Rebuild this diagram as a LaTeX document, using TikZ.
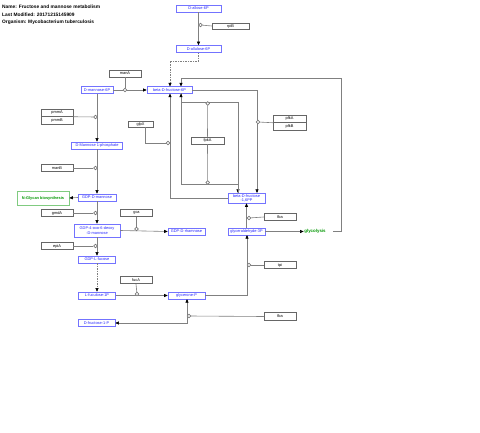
\documentclass[tikz,border=0pt]{standalone}
\usepackage{fontspec}
\setmainfont{Liberation Sans}
\usetikzlibrary{arrows.meta}
\definecolor{pwgreen}{RGB}{0,150,0}
\tikzset{
  lbl/.style={font=\fontsize{3.9}{4.3}\selectfont},
  met/.style={lbl, draw=blue!55, fill=white, text=blue!85, inner sep=0pt, align=center, line width=0.5pt},
  gene/.style={lbl, draw=black!60, fill=white, text=black, inner sep=0pt, minimum width=32pt, minimum height=7.5pt, line width=0.5pt},
  anc/.style={circle, draw=black!55, fill=white, minimum size=3.6pt, inner sep=0pt, line width=0.5pt},
  conn/.style={draw=black!50, line width=0.6pt},
  rxn/.style={conn, -{Triangle[length=3.6pt,width=3pt,color=black]}},
  rxnb/.style={conn, {Triangle[length=3.6pt,width=3pt,color=black]}-{Triangle[length=3.6pt,width=3pt,color=black]}},
  dashrxn/.style={rxn, dash pattern=on 1.5pt off 1pt},
}
\begin{document}
\begin{tikzpicture}[x=1pt,y=-1pt]
\path[use as bounding box, fill=white] (0,0) rectangle (480,433);
% title
\node[anchor=west, font=\fontsize{4.85}{5.2}\selectfont\bfseries, inner sep=0] (t1) at (2,7) {Name: Fructose and mannose metabolism};
\node[anchor=west, font=\fontsize{4.85}{5.2}\selectfont\bfseries, inner sep=0] (t2) at (2,15) {Last Modified: 20171215145909};
\node[anchor=west, font=\fontsize{4.85}{5.2}\selectfont\bfseries, inner sep=0] (t3) at (2,22.5) {Organism: Mycobacterium tuberculosis};

% metabolites
\node[met, minimum width=45pt, minimum height=7pt] (allose) at (198.5,8.5) {D-allose-6P};
\node[met, minimum width=45pt, minimum height=7pt] (allulose) at (198.5,49) {D-allulose-6P};
\node[met, minimum width=32pt, minimum height=7pt] (man6p) at (97,90) {D-mannose-6P};
\node[met, minimum width=45pt, minimum height=7pt] (fru6p) at (169.5,90) {beta-D-fructose-6P};
\node[met, minimum width=37pt, minimum height=10pt] (fbp) at (246.5,198) {beta-D-fructose\\-1,6PP};
\node[met, minimum width=37pt, minimum height=7pt] (gap) at (246.5,231.5) {glyceraldehyde-3P};
\node[met, minimum width=37pt, minimum height=7pt] (dhap) at (186.5,295.5) {glycerone-P};
\node[met, minimum width=37pt, minimum height=7.5pt] (fru1p) at (96.5,323) {D-fructose-1-P};
\node[met, minimum width=51pt, minimum height=7pt] (man1p) at (97,145.5) {D-Mannose 1-phosphate};
\node[met, minimum width=38pt, minimum height=7pt] (gdpman) at (97,197.5) {GDP-D-mannose};
\node[met, minimum width=46pt, minimum height=13pt] (gdpoxo) at (97,230.5) {GDP-4-oxo-6-deoxy\\-D-mannose};
\node[met, minimum width=37pt, minimum height=7pt] (rham) at (186.5,231.5) {GDP-D-rhamnose};
\node[met, minimum width=37pt, minimum height=7pt] (gdpfuc) at (97,259.5) {GDP-L-fucose};
\node[met, minimum width=37pt, minimum height=7pt] (fuc1p) at (97,295.5) {L-fuculose-1P};
% pathway links
\node[lbl, draw=pwgreen!50, text=pwgreen, font=\fontsize{3.9}{4.3}\selectfont\bfseries, minimum width=52pt, minimum height=14pt, inner sep=0, line width=0.5pt] (nglycan) at (43,198) {N-Glycan biosynthesis};
\node[lbl, text=pwgreen, font=\fontsize{4.4}{5}\selectfont\bfseries, inner sep=0.5pt] (glycolysis) at (315,231.5) {glycolysis};

% anchors
\node[anc] (a1) at (200.5,25) {};
\node[anc] (a2) at (125,90) {};
\node[anc] (a3) at (258,122) {};
\node[anc] (a4t) at (207.7,103.5) {};
\node[anc] (a4b) at (207.7,182.5) {};
\node[anc] (a5) at (168,143) {};
\node[anc] (a6) at (249,218) {};
\node[anc] (a7) at (249,265) {};
\node[anc] (a8) at (189,316) {};
\node[anc] (a9) at (95.5,117) {};
\node[anc] (a10) at (95.5,168) {};
\node[anc] (a11) at (95.5,213) {};
\node[anc] (a12) at (136.5,229) {};
\node[anc] (a13) at (95.5,246) {};
\node[anc] (a14) at (137,294) {};

% reactions
\draw[rxn] (allose.south) -- (allulose.north);
\draw[dashrxn] (allulose.south) -- (198.5,61) -- (170,61) -- (170,86.5);
\draw[rxn] (man6p.east) -- (fru6p.west);
\draw[rxn] (fru6p.east) -- (257,90) -- (257,193);
\coordinate (gly1) at (333,231.5);
\draw[rxn] (gly1) -- (341,231.5) -- (341,78) -- (181,78) -- (181,86.5);
\draw[rxn] (181,93.5) -- (181,102) -- (238,102) -- (238,193);
\draw[rxn] (238,193) -- (238,184) -- (181,184) -- (181,93.5);
\draw[rxn] (fbp.west) -- (170,198) -- (170,93.5);
\draw[rxn] (gap.north) -- (fbp.south);
\draw[rxn] (gap.east) -- (glycolysis.west);
\draw[rxn] (dhap.east) -- (247,295.5) -- (247,235);
\draw[rxnb] (fru1p.east) -- (187,323) -- (187,299);
\draw[rxn] (man6p.south) -- (man1p.north);
\draw[rxn] (man1p.south) -- (gdpman.north);
\draw[rxn] (gdpman.west) -- (nglycan.east);
\draw[rxn] (gdpman.south) -- (gdpoxo.north);
\draw[rxn] (gdpoxo.east) -- (rham.west);
\draw[rxn] (gdpoxo.south) -- (gdpfuc.north);
\draw[dashrxn] (gdpfuc.south) -- (fuc1p.north);
\draw[rxn] (fuc1p.east) -- (dhap.west);

% anchors redrawn on top
\foreach \a in {a1,a2,a3,a4t,a4b,a5,a6,a7,a8,a9,a10,a11,a12,a13,a14}
  \node[anc] at (\a) {};

% genes
\node[gene, minimum width=37pt, minimum height=6pt] (rpiB) at (230.5,26) {rpiB};
\node[gene, minimum height=7pt] (manA) at (125,73.5) {manA};
\node[gene, minimum width=25pt, minimum height=6pt] (glpX) at (140.5,124) {glpX};
\node[gene, minimum width=33pt] (pfkA) at (289.5,118.75) {pfkA};
\node[gene, minimum width=33pt] (pfkB) at (289.5,126.25) {pfkB};
\node[gene, minimum width=33pt, minimum height=7pt] (fpkA) at (207.5,140.5) {fpkA};
\node[gene] (fba1) at (280,217) {fba};
\node[gene] (tpi) at (280,265) {tpi};
\node[gene] (fba2) at (280,316.5) {fba};
\node[gene] (pmmA) at (57,112.75) {pmmA};
\node[gene] (pmmB) at (57,120.25) {pmmB};
\node[gene] (manB) at (57,168) {manB};
\node[gene] (gmdA) at (57,213) {gmdA};
\node[gene] (gca) at (136.5,213) {gca};
\node[gene] (epiA) at (57,246) {epiA};
\node[gene] (fucA) at (136,280) {fucA};

% gene links
\draw[conn] (rpiB.west) -- (a1);
\draw[conn] (manA.south) -- (a2);
\draw[conn] (pfkA.south west) -- (a3);
\draw[conn] (a4t) -- (fpkA.north);
\draw[conn] (fpkA.south) -- (a4b);
\draw[conn] (glpX.south -| 145,0) -- (145,143) -- (a5);
\draw[conn] (fba1.west) -- (a6);
\draw[conn] (tpi.west) -- (a7);
\draw[conn] (fba2.west) -- (a8);
\draw[conn] (pmmA.south east) -- (a9);
\draw[conn] (manB.east) -- (a10);
\draw[conn] (gmdA.east) -- (a11);
\draw[conn] (gca.south) -- (a12);
\draw[conn] (epiA.east) -- (a13);
\draw[conn] (fucA.south) -- (a14);
\end{tikzpicture}
\end{document}
